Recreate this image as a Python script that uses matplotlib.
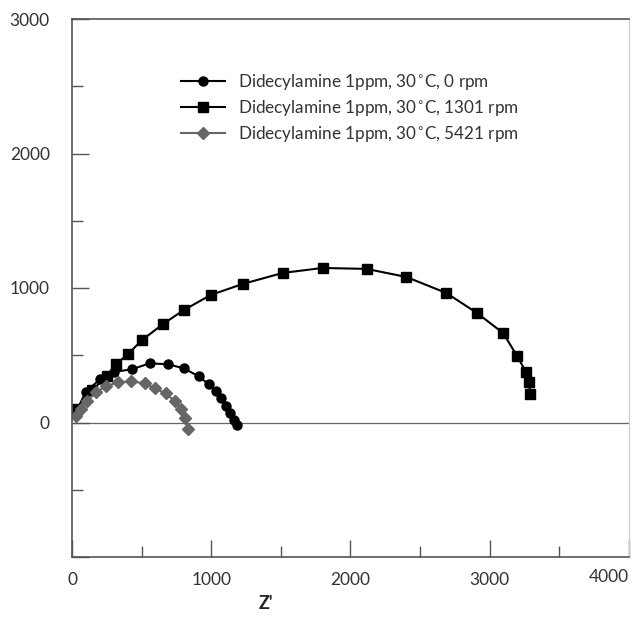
import matplotlib.pyplot as plt
from matplotlib.ticker import MultipleLocator

plt.rcParams['font.family'] = ['Lato', 'DejaVu Sans']

# Nyquist data (Z', -Z'')
z0_re = [20, 100, 200, 300, 430, 559, 688, 803, 910, 982, 1032, 1068, 1104, 1133, 1161, 1183]
z0_im = [60, 230, 320, 375, 396, 440, 433, 403, 343, 284, 231, 179, 119, 67, 22, -22]

z1301_re = [36, 143, 251, 315, 401, 502, 652, 803, 996, 1226, 1513, 1799, 2115, 2401, 2688,
            2910, 3097, 3197, 3262, 3283, 3290]
z1301_im = [104, 239, 343, 433, 507, 612, 731, 836, 948, 1030, 1112, 1149, 1142, 1082, 963,
            813, 664, 493, 373, 299, 209]

z5421_re = [29, 65, 108, 172, 244, 330, 423, 523, 595, 674, 738, 781, 810, 832]
z5421_im = [52, 97, 157, 224, 269, 299, 306, 291, 254, 216, 157, 104, 37, -45]

labels = ['Didecylamine 1ppm, 30$^{\\circ}$C, 0 rpm',
          'Didecylamine 1ppm, 30$^{\\circ}$C, 1301 rpm',
          'Didecylamine 1ppm, 30$^{\\circ}$C, 5421 rpm']

xticks = [0, 1000, 2000, 3000, 4000]
yticks = [-1000, 0, 1000, 2000, 3000]
ytick_labels = ['', '0', '1000', '2000', '3000']

fig = plt.figure(figsize=(6.33, 6.17), dpi=100)
ax = fig.add_axes([72/633, 60/617, 557/633, 538/617])

ax.axhline(0, color='#666666', lw=0.9, zorder=1)

ax.plot(z0_re, z0_im, color='black', lw=1.5, marker='o', markersize=6.5, label=labels[0])
ax.plot(z1301_re, z1301_im, color='black', lw=1.5, marker='s', markersize=6.5, label=labels[1])
ax.plot(z5421_re, z5421_im, color='#666666', lw=1.5, marker='D', markersize=6.5, label=labels[2])

ax.set_xlim(0, 4000)
ax.set_ylim(-1000, 3000)
ax.set_xticks(xticks)
ax.set_xticklabels([str(t) for t in xticks[:-1]] + [''])
ax.set_yticks(yticks)
ax.set_yticklabels(ytick_labels)
ax.xaxis.set_minor_locator(MultipleLocator(500))
ax.yaxis.set_minor_locator(MultipleLocator(500))
ax.tick_params(which='major', direction='in', length=12, width=1, color='#555555',
               labelsize=12.5, labelcolor='#333333', pad=11)
ax.tick_params(which='minor', direction='in', length=8, width=1, color='#555555')
ax.tick_params(axis='y', pad=16)

# last x label sits flush against the right edge, as in the original
ax.text(4000, -0.0215, str(xticks[-1]), transform=ax.get_xaxis_transform(),
        ha='right', va='top', fontsize=12.5, color='#333333')

for s in ['left', 'bottom', 'top']:
    ax.spines[s].set_color('#555555')
    ax.spines[s].set_linewidth(1.2)
ax.spines['right'].set_color('#cccccc')

ax.set_xlabel("Z'", fontsize=13, fontweight='bold', color='#222222')
ax.xaxis.set_label_coords((266-72)/557, -0.07)

ax.legend(loc='upper left', bbox_to_anchor=(0.168, 0.93), frameon=False, fontsize=12.3,
          handlelength=2.6, handletextpad=0.75, labelspacing=0.35)
for t in ax.get_legend().get_texts():
    t.set_color('#333333')

fig.savefig('out.png', dpi=100)
